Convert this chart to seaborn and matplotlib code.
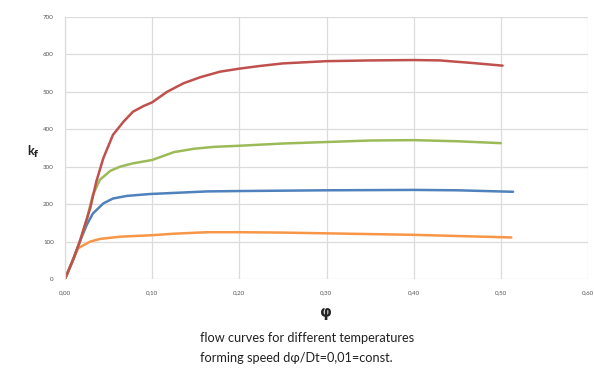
import numpy as np
import pandas as pd
import matplotlib
matplotlib.use("Agg")
import matplotlib.pyplot as plt
import seaborn as sns

# data
red_x = [0, 0.0095, 0.017, 0.029, 0.036, 0.044, 0.055, 0.067, 0.078, 0.09, 0.1, 0.117, 0.136,
         0.155, 0.178, 0.2, 0.223, 0.25, 0.3, 0.35, 0.4, 0.43, 0.468, 0.502]
red_y = [0, 53, 100, 190, 261, 323, 385, 420, 447, 462, 472, 500, 523,
         539, 554, 562, 569, 576, 582, 584, 585, 584, 577, 570]

green_x = [0, 0.0095, 0.017, 0.025, 0.032, 0.04, 0.052, 0.063, 0.078, 0.1, 0.125, 0.148,
           0.171, 0.2, 0.25, 0.3, 0.35, 0.4, 0.45, 0.5]
green_y = [0, 53, 100, 160, 225, 265, 289, 300, 309, 318, 339, 348,
           353, 356, 362, 366, 370, 371, 368, 363]

blue_x = [0, 0.0095, 0.017, 0.025, 0.032, 0.044, 0.055, 0.071, 0.097, 0.125, 0.163, 0.2,
          0.3, 0.4, 0.45, 0.514]
blue_y = [0, 53, 100, 145, 175, 202, 215, 222, 227, 230, 234, 235,
          237, 238, 237, 233]

orange_x = [0, 0.0095, 0.015, 0.021, 0.029, 0.04, 0.063, 0.1, 0.125, 0.163, 0.2, 0.25,
            0.3, 0.4, 0.512]
orange_y = [0, 53, 82, 90, 100, 107, 113, 117, 121, 125, 125, 124,
            122, 118, 111]

x_ticks = [0.0, 0.1, 0.2, 0.3, 0.4, 0.5, 0.6]
x_labels = ["0,00", "0,10", "0,20", "0,30", "0,40", "0,50", "0,60"]
y_ticks = [0, 100, 200, 300, 400, 500, 600, 700]
y_labels = ["0", "100", "200", "300", "400", "500", "600", "700"]

series = [("orange", orange_x, orange_y, "#f79646"),
          ("blue", blue_x, blue_y, "#4f81bd"),
          ("green", green_x, green_y, "#9bbb59"),
          ("red", red_x, red_y, "#c0504d")]

sns.set_theme(style="white")
plt.rcParams['font.family'] = ['Lato', 'DejaVu Sans']

fig = plt.figure(figsize=(5.94, 3.69), dpi=100)
ax = fig.add_axes([65/594, 1-279/369, (588-65)/594, (279-17)/369])

for name, xs, ys, col in series:
    df = pd.DataFrame({"phi": xs, "kf": ys})
    sns.lineplot(data=df, x="phi", y="kf", ax=ax, color=col, linewidth=1.8,
                 estimator=None, sort=False)

ax.set_xlim(0, 0.6)
ax.set_ylim(0, 700)
ax.set_xticks(x_ticks)
ax.set_xticklabels(x_labels)
ax.set_yticks(y_ticks)
ax.set_yticklabels(y_labels)
ax.tick_params(axis="both", labelsize=4.5, labelcolor="#555555", length=0, pad=8)
ax.grid(True, color="#dcdcdc", linewidth=0.9)
ax.set_axisbelow(True)
for s in ["top", "right", "bottom"]:
    ax.spines[s].set_visible(False)
ax.spines["left"].set_color("#dcdcdc")
ax.spines["left"].set_linewidth(0.9)
ax.set_xlabel("")
ax.set_ylabel("")

fig.text(33/594, 1-152/369, r"k$_\mathbf{f}$", fontsize=9, fontweight="bold",
         ha="center", va="center", color="#222222")
fig.text(326/594, 1-312/369, "φ", fontsize=11, fontweight="bold",
         ha="center", va="center", color="#222222", family=["DejaVu Sans"])
fig.text(200/594, 1-338/369, "flow curves for different temperatures", fontsize=9.2,
         ha="left", va="center", color="#222222")
fig.text(200/594, 1-358/369, "forming speed dφ/Dt=0,01=const.", fontsize=9.2,
         ha="left", va="center", color="#222222")

fig.savefig("out.png", dpi=100)
